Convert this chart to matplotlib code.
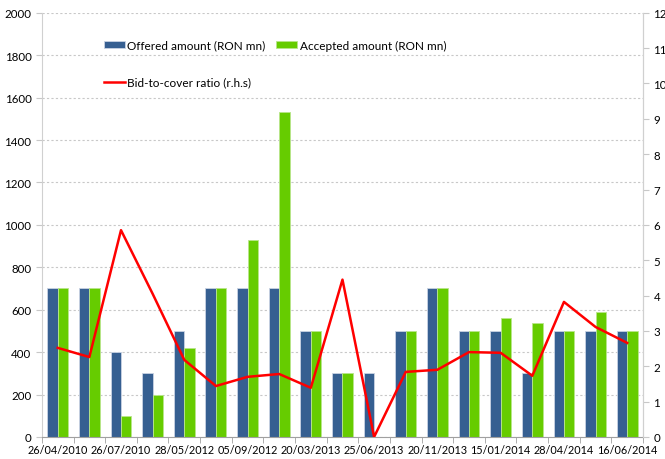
import numpy as np
import matplotlib.pyplot as plt
from matplotlib.ticker import FixedLocator, NullFormatter

plt.rcParams['font.family'] = ['Lato', 'DejaVu Sans']

dates = ["26/04/2010", "", "26/07/2010", "", "28/05/2012", "", "05/09/2012", "",
         "20/03/2013", "", "25/06/2013", "", "20/11/2013", "", "15/01/2014", "",
         "28/04/2014", "", "16/06/2014"]

offered = [700, 700, 400, 300, 500, 700, 700, 700, 500, 300,
           300, 500, 700, 500, 500, 300, 500, 500, 500]
accepted = [700, 700, 100, 200, 420, 700, 930, 1530, 500, 300,
            0, 500, 700, 500, 560, 535, 500, 590, 500]
ratio = [2.52, 2.26, 5.85, 4.05, 2.18, 1.44, 1.70, 1.78, 1.39, 4.45,
         0.0, 1.84, 1.90, 2.40, 2.38, 1.73, 3.82, 3.11, 2.66]

x = np.arange(len(dates))

fig = plt.figure(figsize=(6.65, 4.6), dpi=100)
ax = fig.add_axes([0.063, 0.048, 0.904, 0.922])

w = 0.33
b1 = ax.bar(x - w / 2, offered, w, color="#365f91", edgecolor="#c9d3e3",
            linewidth=0.6, label="Offered amount (RON mn)", zorder=2)
b2 = ax.bar(x + w / 2, accepted, w, color="#66cc00", edgecolor="#b8e68a",
            linewidth=0.6, label="Accepted amount (RON mn)", zorder=2)

ax.set_xlim(-0.5, len(dates) - 0.5)
ax.set_ylim(0, 2000)
ax.set_yticks(np.arange(0, 2001, 200))
ax.yaxis.grid(True, linestyle=(0, (2, 2)), color="#c8c8c8", linewidth=0.8)
ax.set_axisbelow(True)

ax.set_xticks(x[::2])
ax.set_xticklabels(dates[::2])
ax.xaxis.set_minor_locator(FixedLocator(np.arange(-0.5, len(dates), 1)))
ax.xaxis.set_minor_formatter(NullFormatter())
ax.tick_params(axis="x", which="major", length=0, labelsize=7.8, pad=5)
ax.tick_params(axis="x", which="minor", length=4, color="#a0a0a0")
ax.tick_params(axis="y", length=4, color="#c8c8c8", labelsize=8.3)

ax.spines["top"].set_visible(False)
ax.spines["left"].set_color("#d0d0d0")
ax.spines["right"].set_color("#d0d0d0")
ax.spines["bottom"].set_color("#a0a0a0")

ax2 = ax.twinx()
ln, = ax2.plot(x, ratio, color="#ff0000", linewidth=1.8,
               label="Bid-to-cover ratio (r.h.s)", zorder=3)
ax2.set_ylim(0, 12)
ax2.set_yticks(np.arange(0, 13, 1))
ax2.tick_params(axis="y", length=4, color="#c8c8c8", labelsize=8.3)
ax2.spines["top"].set_visible(False)
ax2.spines["right"].set_color("#d0d0d0")
ax2.spines["left"].set_visible(False)
ax2.spines["bottom"].set_visible(False)

leg = ax.legend([b1, ln, b2], [b1.get_label(), ln.get_label(), b2.get_label()],
                ncol=2, loc="upper left", bbox_to_anchor=(0.085, 0.962),
                frameon=False, fontsize=8.5, handlelength=1.8,
                handleheight=0.5, columnspacing=0.9, labelspacing=2.2,
                handletextpad=0.2)

fig.savefig("out.png", dpi=100)
